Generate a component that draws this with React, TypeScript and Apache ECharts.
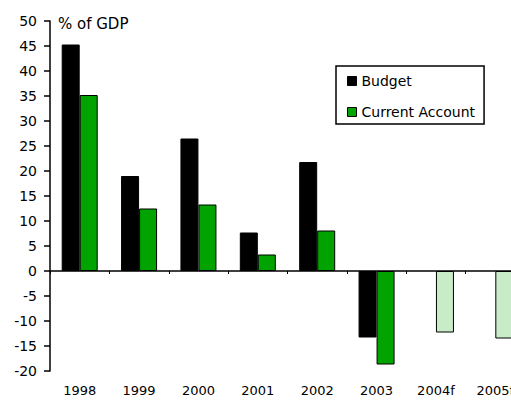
import React, { useEffect, useRef } from "react";
import * as echarts from "echarts";

const categories = ["1998", "1999", "2000", "2001", "2002", "2003", "2004f", "2005f"];
const budget: (number | null)[] = [45.3, 19, 26.5, 7.7, 21.8, -13.3, null, null];
const currentAccount: number[] = [35.2, 12.5, 13.3, 3.3, 8.1, -18.7, -12.3, -13.5];
const forecastFlags: boolean[] = [false, false, false, false, false, false, true, true];
const yTicks = { min: -20, max: 50, interval: 5 };

const FONT = "DejaVu Sans";

export default function App() {
  const ref = useRef<HTMLDivElement>(null);
  useEffect(() => {
    if (!ref.current) return;
    const chart = echarts.init(ref.current, undefined, { renderer: "svg" });
    const caData = currentAccount.map((v, i) => ({
      value: v,
      itemStyle: { color: forecastFlags[i] ? "#c8ecc8" : "#00a300" },
    }));
    chart.setOption({
      animation: false,
      textStyle: { fontFamily: FONT },
      grid: {
        left: 50,
        top: 21,
        width: 475,
        height: 350,
        containLabel: false,
        outerBoundsMode: "none",
      },
      legend: {
        orient: "vertical",
        left: 336,
        top: 66,
        padding: [8, 9, 5, 11],
        itemGap: 17,
        itemWidth: 9,
        itemHeight: 9,
        borderColor: "#000",
        borderWidth: 1.5,
        textStyle: { fontFamily: FONT, fontSize: 14, color: "#000" },
        data: [
          { name: "Budget", icon: "rect", itemStyle: { color: "#000", borderColor: "#000", borderWidth: 1 } },
          { name: "Current Account", icon: "rect", itemStyle: { color: "#00a300", borderColor: "#000", borderWidth: 1 } },
        ],
      },
      graphic: [
        {
          type: "text",
          left: 58,
          top: 16,
          style: { text: "% of GDP", fontFamily: FONT, fontSize: 15, fill: "#000" },
        },
      ],
      xAxis: [
        {
          type: "category",
          data: categories,
          axisLine: { onZero: true, lineStyle: { color: "#000", width: 1.5 } },
          axisTick: { show: true, length: 3, lineStyle: { color: "#000" } },
          axisLabel: { show: false },
        },
        {
          type: "category",
          data: categories,
          position: "bottom",
          axisLine: { show: false, onZero: false },
          axisTick: { show: false },
          axisLabel: { show: true, margin: 13, fontFamily: FONT, fontSize: 13, color: "#000", interval: 0 },
        },
      ],
      yAxis: {
        type: "value",
        min: yTicks.min,
        max: yTicks.max,
        interval: yTicks.interval,
        splitLine: { show: false },
        axisLine: { show: true, onZero: false, lineStyle: { color: "#000", width: 1.5 } },
        axisTick: { show: true, length: 6, lineStyle: { color: "#000", width: 1.5 } },
        axisLabel: { margin: 13, fontFamily: FONT, fontSize: 14, color: "#000" },
      },
      series: [
        {
          name: "Budget",
          type: "bar",
          xAxisIndex: 0,
          data: budget,
          barWidth: 18,
          barGap: "0%",
          itemStyle: { color: "#000", borderColor: "#000", borderWidth: 1 },
        },
        {
          name: "Current Account",
          type: "bar",
          xAxisIndex: 0,
          data: caData,
          barWidth: 18,
          barGap: "0%",
          itemStyle: { color: "#00a300", borderColor: "#000", borderWidth: 1 },
        },
      ],
    });
    return () => chart.dispose();
  }, []);
  return <div ref={ref} style={{ width: 511, height: 401, position: "absolute", left: 0, top: 0 }} />;
}
